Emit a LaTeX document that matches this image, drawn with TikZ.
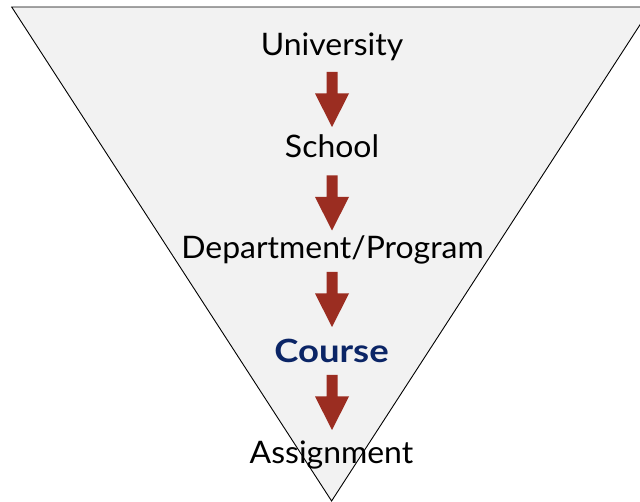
\documentclass[tikz,border=0pt]{standalone}
\usepackage{fontspec}
\setmainfont{Lato}
\definecolor{funnelfill}{HTML}{F2F2F2}
\definecolor{arrowred}{HTML}{9B2D21}
\definecolor{navy}{HTML}{0B2566}
\newcommand{\lvltext}[1]{\scalebox{1.03}[1]{#1}}
\newcommand{\focustext}[1]{\scalebox{1.14}[1]{#1}}
\begin{document}
\begin{tikzpicture}[x=1pt,y=-1pt,
  level/.style={font=\fontsize{31}{31}\selectfont, anchor=base, inner sep=0pt},
  focus/.style={level, font=\fontsize{32}{32}\selectfont\bfseries, text=navy},
  pics/downarrow/.style={code={
    \fill[arrowred] (-5.5,0) -- (5.5,0) -- (5.5,21.5) -- (17,21.5)
      -- (0,55) -- (-17,21.5) -- (-5.5,21.5) -- cycle;}}]
  \useasboundingbox (0,0) rectangle (640,502);
  \clip (0,0) rectangle (640,502);
  % inverted triangle (funnel)
  \coordinate (tl) at (11.7,7);
  \coordinate (tr) at (651.5,7);
  \coordinate (apex) at (331.6,501);
  \draw[line width=0.9pt, fill=funnelfill, line join=miter] (tl) -- (tr) -- (apex) -- cycle;
  % levels
  \node[level] (uni) at (332,56) {\lvltext{University}};
  \node[level] (school) at (332,158) {\lvltext{School}};
  \node[level] (dept) at (332.5,259) {\lvltext{Department/Program}};
  \node[focus] (course) at (331.5,363) {\focustext{Course}};
  \node[level] (assign) at (331.5,463) {\lvltext{Assignment}};
  % arrows between levels
  \pic at (332,72) {downarrow};
  \pic at (332,175.5) {downarrow};
  \pic at (332,272) {downarrow};
  \pic at (332,375) {downarrow};
\end{tikzpicture}
\end{document}
